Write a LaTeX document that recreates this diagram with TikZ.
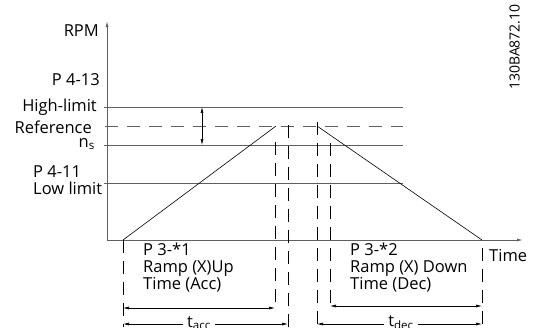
\documentclass[tikz,border=0pt]{standalone}
\usepackage{fontspec}
\setmainfont{Open Sans}
\usetikzlibrary{arrows.meta, positioning}
\definecolor{levelgray}{RGB}{95,95,95}

\begin{document}
\begin{tikzpicture}[x=1pt, y=-1pt,
    lbl/.style={font=\fontsize{16.5}{17}\selectfont, inner sep=0pt},
    level/.style={levelgray, line width=0.9pt},
    ramp/.style={black, line width=0.6pt},
    guide/.style={black, line width=0.6pt, dash pattern=on 13pt off 8pt},
    dimline/.style={black, line width=0.6pt, {Latex[length=6pt,width=3pt]}-{Latex[length=6pt,width=3pt]}}]
  \useasboundingbox (0,0) rectangle (534,327);
  % axes
  \coordinate (o) at (107,240);
  \coordinate (ytop) at (107,21);
  \coordinate (xend) at (523,240);
  \draw[level, -{Latex[length=6pt,width=3pt]}] (o) -- (ytop);
  \draw[level, -{Latex[length=6pt,width=3pt]}] (o) -- (xend);
  \node[lbl, anchor=east] (rpm) at (99,31) {RPM};
  \node[lbl, anchor=west] (time) at (489,256) {Time};
  % speed levels
  \coordinate (hi0) at (104,107);  \coordinate (hi1) at (403,107);
  \coordinate (ref0) at (105,126); \coordinate (ref1) at (403,126);
  \coordinate (ns0) at (104,145);  \coordinate (ns1) at (403,145);
  \coordinate (lo0) at (104,183);  \coordinate (lo1) at (403,183);
  \draw[level] (hi0) -- (hi1);
  \draw[level, dash pattern=on 13pt off 9pt] (ref0) -- (ref1);
  \draw[level] (ns0) -- (ns1);
  \draw[level] (lo0) -- (lo1);
  \node[lbl, anchor=east] (p413) at (100,80) {P 4-13};
  \node[lbl, anchor=east] (hilim) at (97,107) {High-limit};
  \node[lbl, anchor=east] (refer) at (92,127) {Reference};
  \node[lbl, anchor=east] (ns) at (95,144) {n\textsubscript{s}};
  \node[lbl, anchor=west] (p411) at (33,172) {P 4-11};
  \node[lbl, anchor=west] (lolim) at (33,188) {Low limit};
  \coordinate (tolA) at (202,107);
  \coordinate (tolB) at (202,145);
  \draw[dimline] (tolA) -- (tolB);
  % ramps
  \coordinate (upS) at (123,240);
  \coordinate (upE) at (276,126);
  \coordinate (dnS) at (317,126);
  \coordinate (dnE) at (482,240);
  \draw[ramp] (upS) -- (upE);
  \draw[ramp] (dnS) -- (dnE);
  % guide lines
  \draw[guide] (upS) -- (123,327);
  \draw[guide] (275,142) -- (275,310) coordinate (accA);
  \draw[guide] (288,125) -- (288,327) coordinate (accB);
  \draw[guide] (317,122) -- (317,327) coordinate (decB);
  \draw[guide] (330,143) -- (330,308) coordinate (decA);
  \draw[guide] (482,248) -- (482,327);
  \node[lbl, anchor=north west, align=left] (acc) at (143,243) {P 3-*1\\Ramp (X)Up\\Time (Acc)};
  \node[lbl, anchor=north west, align=left] (dec) at (350,243) {P 3-*2\\Ramp (X) Down\\Time (Dec)};
  % time spans
  \coordinate (a1) at (123,308); \coordinate (a2) at (275,308);
  \coordinate (a3) at (123,324); \coordinate (a4) at (288,324);
  \coordinate (d1) at (330,306); \coordinate (d2) at (482,306);
  \coordinate (d3) at (317,324); \coordinate (d4) at (482,324);
  \draw[dimline] (a1) -- (a2);
  \draw[dimline] (a3) -- (a4);
  \draw[dimline] (d1) -- (d2);
  \draw[dimline] (d3) -- (d4);
  \node[lbl, fill=white, inner xsep=4pt] (tacc) at (199,323) {t\textsubscript{acc}};
  \node[lbl, fill=white, inner xsep=4pt] (tdec) at (401,323) {t\textsubscript{dec}};
  \node[font=\fontsize{14}{14}\selectfont, rotate=90, anchor=south west, inner sep=0pt] (code) at (520,90) {130BA872.10};
\end{tikzpicture}
\end{document}
